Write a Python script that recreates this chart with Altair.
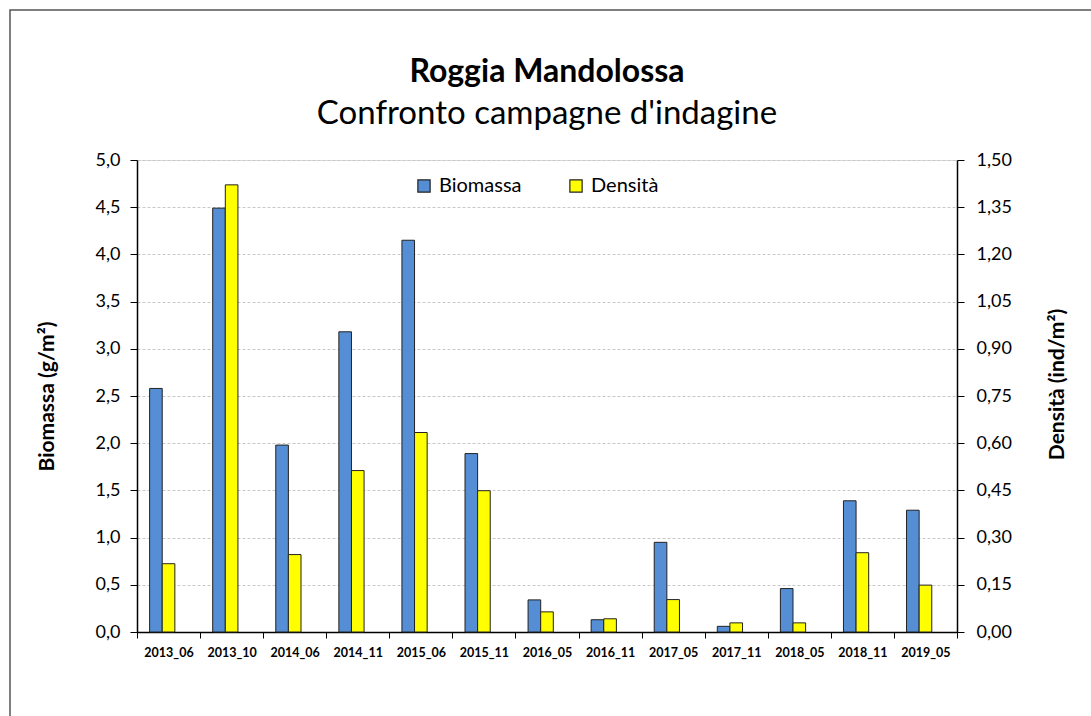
import altair as alt
import pandas as pd

categories = ["2013_06", "2013_10", "2014_06", "2014_11", "2015_06", "2015_11", "2016_05",
              "2016_11", "2017_05", "2017_11", "2018_05", "2018_11", "2019_05"]
biomassa = [2.58, 4.49, 1.98, 3.18, 4.15, 1.89, 0.34, 0.13, 0.95, 0.06, 0.46, 1.39, 1.29]
densita = [0.217, 1.421, 0.246, 0.513, 0.634, 0.449, 0.064, 0.042, 0.103, 0.029, 0.029, 0.252, 0.149]
left_ticks = [0, 0.5, 1.0, 1.5, 2.0, 2.5, 3.0, 3.5, 4.0, 4.5, 5.0]
right_ticks = [0, 0.15, 0.30, 0.45, 0.60, 0.75, 0.90, 1.05, 1.20, 1.35, 1.50]
series_names = ["Biomassa", "Densità"]
series_colors = ["#558ed5", "#ffff00"]

rows = []
for c, b, d in zip(categories, biomassa, densita):
    rows.append({"cat": c, "series": "Biomassa", "value": b})
    rows.append({"cat": c, "series": "Densità", "value": d})
df = pd.DataFrame(rows)

FONT = "Lato"
W, H = 820, 472

x_enc = alt.X("cat:N", sort=categories, title=None,
              scale=alt.Scale(paddingInner=0, paddingOuter=0),
              axis=alt.Axis(labelAngle=0, labelFont=FONT, labelFontSize=12.5, labelFontWeight="bold",
                            labelColor="black", domainColor="black", domainWidth=1.5,
                            tickColor="black", tickSize=6, tickBand="extent", labelPadding=8,
                            grid=False))
xoff = alt.XOffset("series:N", scale=alt.Scale(domain=["_a", "Biomassa", "Densità", "_b", "_c"],
                                                paddingInner=0, paddingOuter=0))
color = alt.Color("series:N", title=None,
                  scale=alt.Scale(domain=series_names, range=series_colors),
                  legend=alt.Legend(orient="none", legendX=277, legendY=16, direction="horizontal",
                                    columns=2, columnPadding=44, symbolType="square", symbolSize=150,
                                    symbolStrokeColor="#222", symbolStrokeWidth=1.2,
                                    labelFont=FONT, labelFontSize=20, labelColor="black",
                                    labelOffset=5))

base = alt.Chart(df)

bio = base.transform_filter(alt.datum.series == "Biomassa").mark_bar(
    stroke="#222", strokeWidth=1).encode(
    x=x_enc, xOffset=xoff, color=color,
    y=alt.Y("value:Q", scale=alt.Scale(domain=[0, 5], nice=False),
            axis=alt.Axis(orient="left", values=left_ticks, title="Biomassa  (g/m²)",
                          labelExpr="replace(format(datum.value, '.1f'), '.', ',')",
                          labelFont=FONT, labelFontSize=18, labelColor="black", labelPadding=10,
                          domainColor="black", domainWidth=1.5, tickColor="black", tickSize=7,
                          grid=True, gridColor="#c8c8c8", gridDash=[3, 2], gridWidth=1,
                          titleFont=FONT, titleFontSize=21, titleFontWeight="bold", titleColor="black",
                          titleAngle=270, titleX=-90, titleY=H / 2, titleAlign="center",
                          titleBaseline="middle")))

den = base.transform_filter(alt.datum.series == "Densità").mark_bar(
    stroke="#222", strokeWidth=1).encode(
    x=x_enc, xOffset=xoff, color=color,
    y=alt.Y("value:Q", scale=alt.Scale(domain=[0, 1.5], nice=False),
            axis=alt.Axis(orient="right", values=right_ticks, title="Densità (ind/m²)",
                          labelExpr="replace(format(datum.value, '.2f'), '.', ',')",
                          labelFont=FONT, labelFontSize=18, labelColor="black", labelPadding=12,
                          domainColor="black", domainWidth=1.5, tickColor="black", tickSize=7,
                          grid=False,
                          titleFont=FONT, titleFontSize=21, titleFontWeight="bold", titleColor="black",
                          titleAngle=270, titleX=100, titleY=H / 2 - 12, titleAlign="center",
                          titleBaseline="middle")))

frame = alt.Chart(pd.DataFrame({"k": [0]})).mark_rect(
    fill="transparent", stroke="#555", strokeWidth=1.5).encode(
    x=alt.value(-127), x2=alt.value(1091 - 137 + 10),
    y=alt.value(-150), y2=alt.value(716 - 160 + 10))

chart = alt.layer(frame, bio, den).resolve_scale(y="independent").properties(
    width=W, height=H,
    autosize=alt.AutoSizeParams(type="none"),
    padding={"left": 137, "top": 160, "right": 134, "bottom": 84},
    title=alt.Title("Roggia Mandolossa", subtitle="Confronto campagne d'indagine",
                    font=FONT, fontSize=32, fontWeight="bold", color="black",
                    subtitleFont=FONT, subtitleFontSize=33, subtitleColor="black",
                    subtitlePadding=9, anchor="middle", offset=-6, dy=117)
).configure_view(stroke="#999", strokeWidth=1).configure(background="white")

chart.save("out.html", embed_options={"renderer": "svg", "actions": False})
